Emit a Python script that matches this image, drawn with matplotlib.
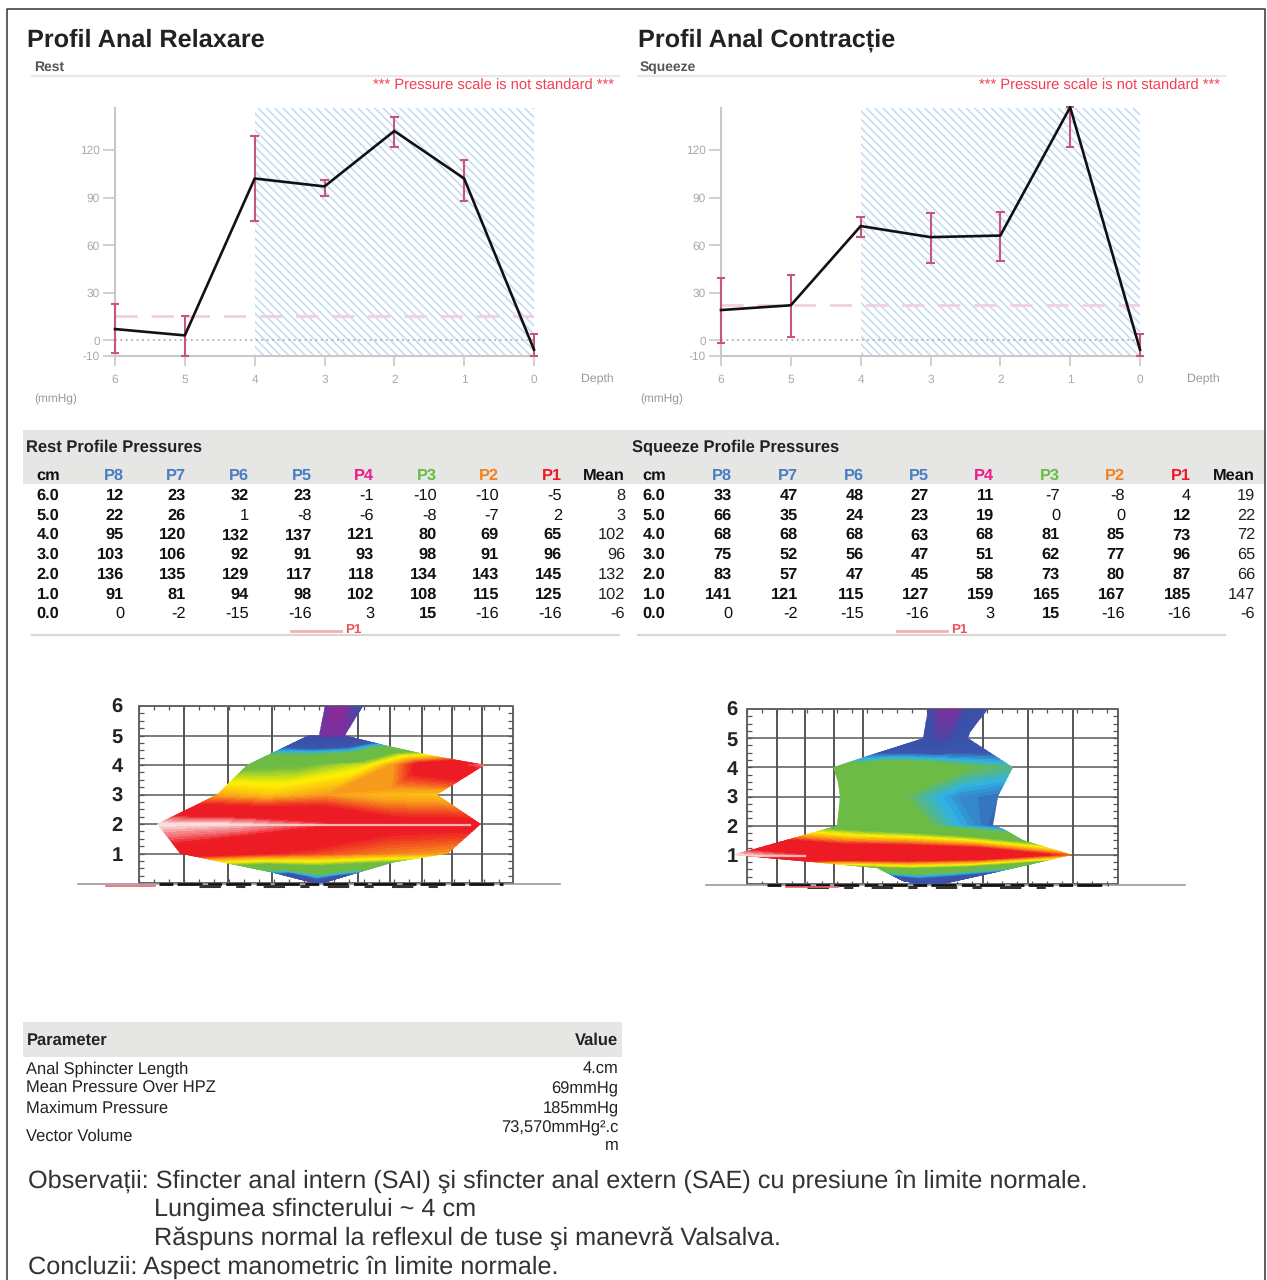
"""
Anal manometry report page: rest and squeeze profiles, pressure tables and surface maps.
"""
import numpy as np
import matplotlib
matplotlib.use('Agg')
import matplotlib.pyplot as plt
from matplotlib.colors import LinearSegmentedColormap, Normalize
from matplotlib.patches import PathPatch, Rectangle
from matplotlib.path import Path

plt.rcParams['font.family'] = ['Liberation Sans', 'DejaVu Sans']
plt.rcParams['text.hinting'] = 'none'
plt.rcParams['axes.unicode_minus'] = False
plt.rcParams['hatch.linewidth'] = 1.2

W, H = 1267, 1280

# profile curves
depth = [6, 5, 4, 3, 2, 1, 0]
rest_mean = [7, 3, 102, 97, 132, 102, -6]
rest_low = [-8, -10, 75, 91, 122, 88, -10]
rest_high = [23, 15, 129, 101, 141, 114, 4]
rest_limit = 15
squeeze_mean = [19, 22, 72, 65, 66, 147, -6]
squeeze_low = [-2, 2, 65, 49, 50, 122, -10]
squeeze_high = [39, 41, 78, 80, 81, 147, 4]
squeeze_limit = 22
y_ticks = [-10, 0, 30, 60, 90, 120]

# tables
cm_rows = ['6.0', '5.0', '4.0', '3.0', '2.0', '1.0', '0.0']
channels = ['P8', 'P7', 'P6', 'P5', 'P4', 'P3', 'P2', 'P1']
channel_colors = ['#4a7fc1', '#4a7fc1', '#4a7fc1', '#4a7fc1', '#ec1c8c', '#6abd45', '#f58220', '#ed1c24']
rest_table = [
    [12, 23, 32, 23, -1, -10, -10, -5],
    [22, 26, 1, -8, -6, -8, -7, 2],
    [95, 120, 132, 137, 121, 80, 69, 65],
    [103, 106, 92, 91, 93, 98, 91, 96],
    [136, 135, 129, 117, 118, 134, 143, 145],
    [91, 81, 94, 98, 102, 108, 115, 125],
    [0, -2, -15, -16, 3, 15, -16, -16],
]
rest_means = [8, 3, 102, 96, 132, 102, -6]
squeeze_table = [
    [33, 47, 48, 27, 11, -7, -8, 4],
    [66, 35, 24, 23, 19, 0, 0, 12],
    [68, 68, 68, 63, 68, 81, 85, 73],
    [75, 52, 56, 47, 51, 62, 77, 96],
    [83, 57, 47, 45, 58, 73, 80, 87],
    [141, 121, 115, 127, 159, 165, 167, 185],
    [0, -2, -15, -16, 3, 15, -16, -16],
]
squeeze_means = [19, 22, 72, 65, 66, 147, -6]

params = ['Anal Sphincter Length', 'Mean Pressure Over HPZ', 'Maximum Pressure', 'Vector Volume']
param_values = ['4.cm', '69mmHg', '185mmHg', '73,570mmHg\u00b2.c\nm']

notes = [
    'Observa\u021bii: Sfincter anal intern (SAI) \u015fi sfincter anal extern (SAE) cu presiune \u00een limite normale.',
    'Lungimea sfincterului ~ 4 cm',
    'R\u0103spuns normal la reflexul de tuse \u015fi manevr\u0103 Valsalva.',
    'Concluzii: Aspect manometric \u00een limite normale.',
]

# surface maps, x in page pixels, depth rows 6 to 0
surf_depth = [6, 5, 4, 3, 2, 1, 0]
rest_left = [325, 308, 247, 217, 157, 180, 313]
rest_right = [363, 363, 485, 437, 481, 448, 323]
rest_clip_y = [6, 5, 5, 4, 3, 2, 1, 0.72, 0.35, 0, 0, 0.7, 1, 2, 2.75, 3, 3.2, 4, 4.35, 4.65, 5, 6]
rest_clip_x = [325, 319, 308, 247, 217, 157, 180, 220, 273, 313, 323, 393, 448, 481, 448, 437, 447, 485, 427, 387, 345, 363]
squeeze_left = [928, 923, 833, 840, 837, 733, 903]
squeeze_right = [988, 975, 1013, 998, 993, 1072, 943]
squeeze_clip_y = [6, 5, 4.2, 4, 3.5, 3, 2, 1, 0.55, 0.1, 0, 0, 0.5, 1, 1.5, 1.9, 2, 3, 4, 5, 5.2, 6]
squeeze_clip_x = [928, 923, 850, 833, 838, 840, 837, 733, 877, 903, 920, 943, 1010, 1072, 1023, 1003, 993, 998, 1013, 968, 970, 988]
rest_grid_x = [139, 184, 228, 272, 358, 390, 422, 452, 482, 513]
squeeze_grid_x = [747, 777, 805, 834, 863, 983, 1028, 1073, 1118]
rest_levels = [-10, 2, 28, 36, 44, 70, 84, 98, 113, 132, 145]
squeeze_levels = [-10, 4, 44, 56, 68, 97, 110, 122, 136, 170, 185]
level_colors = ['#8a2a9a', '#3a4fa8', '#3a56ac', '#2fb3e6', '#6cbb45', '#6cbb45', '#fff200',
                '#f9a11b', '#ed1c24', '#ed1c24', '#fbe9e9']


def page_xy(fig, x0, y0, x1, y1):
    return fig.add_axes([x0 / W, 1 - y1 / H, (x1 - x0) / W, (y1 - y0) / H])


def draw_profile(fig, x0, x_title, title, sub, mean, low, high, limit):
    page.text(x_title, 40.5, title, fontsize=18.2, fontweight='bold', color='#222222', ha='left', va='center')
    page.text(x0 - 81, 67.5, sub, fontsize=10, fontweight='bold', color='#555555', ha='left', va='center')
    page.plot([x0 - 83, x0 + 504], [75.5, 75.5], color='#e8e8e8', lw=1.6)
    page.text(x0 + 499, 86, '*** Pressure scale is not standard ***', fontsize=10.6, color='#f04050',
              ha='right', va='center')
    page.text(x0 + 499, 379, 'Depth', fontsize=8.8, color='#999999', ha='right', va='center')
    page.text(x0 - 81, 399, '(mmHg)', fontsize=8.6, color='#999999', ha='left', va='center')

    ax = page_xy(fig, x0, 108, x0 + 419, 356)
    ax.set_xlim(6, 0)
    ax.set_ylim(-10, 146.5)
    ax.patch.set_alpha(0)
    ax.add_patch(Rectangle((4, -10), -4, 156.5, facecolor='white', edgecolor='#c4dcf2', hatch='\\\\\\\\',
                           lw=0, zorder=1))
    ax.axhline(limit, color='#f2cfe0', lw=2, dashes=(8, 5), zorder=2)
    ax.axhline(0, color='#b0b0b0', lw=1.3, ls=(0, (1, 2)), zorder=2)
    ax.vlines(depth, low, high, color='#c8557f', lw=1.5, zorder=3, clip_on=False)
    ax.hlines(low, np.array(depth) + 0.06, np.array(depth) - 0.06, color='#c8557f', lw=1.5, zorder=3, clip_on=False)
    ax.hlines(high, np.array(depth) + 0.06, np.array(depth) - 0.06, color='#c8557f', lw=1.5, zorder=3, clip_on=False)
    ax.plot(depth, mean, color='#111111', lw=1.9, zorder=4, clip_on=False)
    for s in ['top', 'right']:
        ax.spines[s].set_visible(False)
    for s in ['left', 'bottom']:
        ax.spines[s].set_color('#c8c8c8')
        ax.spines[s].set_linewidth(1.5)
    ax.set_xticks(depth)
    ax.set_yticks(y_ticks)
    ax.tick_params(axis='x', length=7, width=1.2, color='#c8c8c8', labelcolor='#aaaaaa', labelsize=8.6, pad=6)
    ax.tick_params(axis='y', length=9, width=1.2, color='#c8c8c8', labelcolor='#aaaaaa', labelsize=8.6, pad=2)
    return ax


def draw_table(x_cm, x_cols, x_mean, title, x_title, table, means):
    page.text(x_title, 447.5, title, fontsize=11.9, fontweight='bold', color='#222222', ha='left', va='center')
    page.text(x_cm, 476, 'cm', fontsize=11.8, fontweight='bold', color='#111111', ha='center', va='center')
    page.text(x_mean, 476, 'Mean', fontsize=11.8, fontweight='bold', color='#111111', ha='right', va='center')
    for x, name, col in zip(x_cols, channels, channel_colors):
        page.text(x + 1, 476, name, fontsize=11.8, fontweight='bold', color=col, ha='right', va='center')
    for i, label in enumerate(cm_rows):
        y = 495.7 + i * 19.75
        page.text(x_cm, y, label, fontsize=11.8, fontweight='bold', color='#111111', ha='center', va='center')
        for x, v in zip(x_cols, table[i]):
            page.text(x + 1, y, str(v), fontsize=11.8, color='#111111', ha='right', va='center',
                      fontweight='bold' if v >= 10 else 'normal')
        page.text(x_mean, y, str(means[i]), fontsize=11.8, color='#222222', ha='right', va='center')
    page.plot([x_cm - 16, x_cm + 571], [635, 635], color='#d8d8d0', lw=1.6)
    page.plot([x_cm + 243, x_cm + 293], [630.5, 630.5], color='#f4b0b8', lw=2)
    page.text(x_cm + 297, 629.5, 'P1', fontsize=9.6, fontweight='bold', color='#ee5060', ha='left', va='center')


def draw_surface(fig, x0, x1, y6, y0, grid_x, left, right, clip_x, clip_y, table, levels, x_label, floor, red, shine):
    ax = page_xy(fig, x0 - 70, y6 - 10, x1 + 70, y0 + 12)
    ax.set_xlim(x0 - 70, x1 + 70)
    unit = (y0 - y6) / 6
    ax.set_ylim(-12 / unit, 6 + 10 / unit)
    ax.axis('off')
    ax.hlines(surf_depth[:-1], x0, x1, color='#666666', lw=1.2, zorder=1)
    ax.vlines(grid_x, 0, 6, color='#555555', lw=1.4, zorder=1)
    ax.plot([x0, x1, x1, x0, x0], [6, 6, 0, 0, 6], color='#666666', lw=1.4, zorder=1)
    # short inward ticks on the box
    ax.vlines(np.arange(x0, x1, 15), 5.88, 6, color='#555555', lw=0.9, zorder=1)
    ax.vlines(np.arange(x0, x1, 15), 0, 0.12, color='#555555', lw=0.9, zorder=1)
    ax.hlines(np.arange(0, 6, 0.25), x1 - 5, x1, color='#555555', lw=0.9, zorder=1)
    ax.hlines(np.arange(0, 6, 0.25), x0, x0 + 5, color='#555555', lw=0.9, zorder=1)

    # front half of the sleeve, P1 on the left round to P5 on the right
    front = np.array(table)[:, [7, 6, 5, 4, 3]]
    u = np.linspace(0, 1, 5)
    X = np.array(left)[:, None] + (np.array(right) - np.array(left))[:, None] * u
    Y = np.repeat(np.array(surf_depth, dtype=float)[:, None], 5, axis=1)
    pos = (np.array(levels) - levels[0]) / (levels[-1] - levels[0])
    cmap = LinearSegmentedColormap.from_list('press', list(zip(pos, level_colors)))
    fill = ax.contourf(X, Y, front, levels=np.linspace(levels[0], levels[-1], 90), cmap=cmap,
                       norm=Normalize(levels[0], levels[-1]), extend='both', zorder=2)
    verts = list(zip(clip_x, clip_y)) + [(clip_x[0], clip_y[0])]
    clip = PathPatch(Path(verts), transform=ax.transData)
    fill.set_clip_path(clip)
    streak = ax.plot(shine[:2], [shine[2], shine[2]], color='#fbdcdc', lw=1.6, alpha=0.8, zorder=3)[0]
    streak.set_clip_path(clip)

    for d in surf_depth[:-1]:
        ax.text(x_label, d - 0.07, str(d), fontsize=14.5, fontweight='bold', color='#222222', ha='center', va='center')

    # scanned noise along the floor of the plot
    ax.plot(floor, [-0.05, -0.05], color='#999999', lw=1.2, zorder=3)
    ax.plot([x0 + 20, x1 - 10], [-0.03, -0.03], color='#111111', lw=2.0, dashes=(5, 1.5, 9, 2), zorder=3)
    ax.plot([x0 + 60, x1 - 60], [-0.1, -0.1], color='#333333', lw=2.2, dashes=(7, 5, 3, 6), zorder=3)
    ax.plot(red, [-0.1, -0.1], color='#ee6070', lw=1.2, zorder=3)


fig = plt.figure(figsize=(W / 100, H / 100), dpi=100)
page = fig.add_axes([0, 0, 1, 1])
page.set_xlim(0, W)
page.set_ylim(H, 0)
page.axis('off')

page.plot([7, 7, 1265, 1265], [H, 8.5, 8.5, H], color='#333333', lw=1.1)

draw_profile(fig, 115, 27, 'Profil Anal Relaxare', 'Rest', rest_mean, rest_low, rest_high, rest_limit)
draw_profile(fig, 721, 638, 'Profil Anal Contrac\u021bie', 'Squeeze', squeeze_mean, squeeze_low, squeeze_high, squeeze_limit)

page.add_patch(Rectangle((23, 429.5), 1242, 54, facecolor='#e6e6e5', edgecolor='none'))
draw_table(48, [123, 185, 248, 311, 373, 436, 498, 561], 625, 'Rest Profile Pressures', 26.5, rest_table, rest_means)
draw_table(654, [731, 797, 863, 928, 993, 1059, 1124, 1190], 1255, 'Squeeze Profile Pressures', 632, squeeze_table, squeeze_means)

draw_surface(fig, 139, 513, 706, 883, rest_grid_x, rest_left, rest_right, rest_clip_x, rest_clip_y, rest_table,
             rest_levels, 117, [78, 560], [106, 155], [157, 470, 1.95])
draw_surface(fig, 747, 1118, 709, 884, squeeze_grid_x, squeeze_left, squeeze_right, squeeze_clip_x, squeeze_clip_y,
             squeeze_table, squeeze_levels, 732, [706, 1185], [786, 838], [735, 805, 0.97])

# parameter table
page.add_patch(Rectangle((23, 1022), 599, 35, facecolor='#e6e6e5', edgecolor='none'))
page.text(26.5, 1040.5, 'Parameter', fontsize=11.9, fontweight='bold', color='#222222', va='center')
page.text(618.5, 1040.5, 'Value', fontsize=11.9, fontweight='bold', color='#222222', ha='right', va='center')
for y, name, val in zip([1068.7, 1088.7, 1108.7, 1136.7], params, param_values):
    page.text(26.5, y, name, fontsize=11.9, color='#222222', va='center')
    page.text(618.5, y, val, fontsize=11.9, color='#222222', ha='right', va='center', linespacing=1.15)

page.text(28, 1181, notes[0], fontsize=18.15, color='#333333', va='center')
page.text(154, 1209, notes[1], fontsize=18.15, color='#333333', va='center')
page.text(154, 1238, notes[2], fontsize=18.15, color='#333333', va='center')
page.text(28, 1267, notes[3], fontsize=18.15, color='#333333', va='center')

fig.savefig('out.png', dpi=100)
